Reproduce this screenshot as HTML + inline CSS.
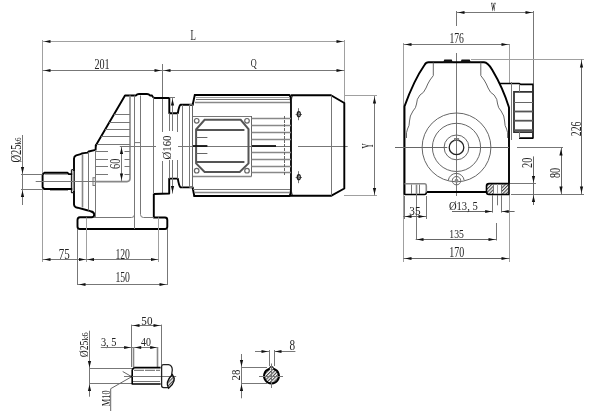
<!DOCTYPE html>
<html><head><meta charset="utf-8">
<style>
html,body{margin:0;padding:0;background:#fff;width:601px;height:411px;overflow:hidden}
svg{display:block;will-change:transform}
text{font-family:"Liberation Serif",serif;fill:#222;stroke:none}
.t{stroke:#777;stroke-width:1;fill:none}
.g{stroke:#a0a0a0;stroke-width:1;fill:none}
.d{stroke:#666;stroke-width:1;fill:none}
.h{stroke:#888;stroke-width:1.6;fill:none}
.k{stroke:#000;stroke-width:1.9;fill:none;stroke-linejoin:round;stroke-linecap:round}
.k2{stroke:#000;stroke-width:1.6;fill:none;stroke-linejoin:round}
.b{stroke:#222;stroke-width:0.4}
.m{stroke:#222;stroke-width:1.3;fill:none;stroke-linejoin:round}
.a{fill:#111;stroke:none}
</style></head><body>
<svg width="601" height="411" viewBox="0 0 601 411">
<line class="g" x1="42.5" y1="40" x2="42.5" y2="262"/>
<line class="g" x1="344.5" y1="40" x2="344.5" y2="103"/>
<line class="g" x1="42.5" y1="41.5" x2="344.5" y2="41.5"/>
<path class="a" d="M44.00,41.50 L50.50,39.90 L50.50,43.10Z"/>
<path class="a" d="M343.00,41.50 L336.50,43.10 L336.50,39.90Z"/>
<text font-size="14.53" transform="translate(190.53 40.30) scale(0.609 1)">L</text>
<line class="t" x1="42.5" y1="70.5" x2="344.5" y2="70.5"/>
<path class="a" d="M44.00,70.50 L50.50,68.90 L50.50,72.10Z"/>
<path class="a" d="M161.00,70.50 L154.50,72.10 L154.50,68.90Z"/>
<path class="a" d="M164.00,70.50 L170.50,68.90 L170.50,72.10Z"/>
<path class="a" d="M343.00,70.50 L336.50,72.10 L336.50,68.90Z"/>
<text font-size="14.24" transform="translate(94.39 69.10) scale(0.712 1)">201</text>
<text font-size="13.03" transform="translate(250.67 67.30) scale(0.630 1)">Q</text>
<line class="t" x1="162.5" y1="64" x2="162.5" y2="132"/>
<line class="t" x1="162.5" y1="161" x2="162.5" y2="194"/>
<path class="k" d="M95.8,145.5 L125,95.5 L136,95.5 Q137,94 139,94 L147,94 Q149,94 150,95.5 L152,95.5 Q153,98 155,98 L169.3,98 L169.3,113.3 L177.8,113.3 Q179,106 180.5,104.8 L192.6,104.8"/>
<path class="k" d="M95.8,145.5 L95.6,149.9 L88.7,151.5 L87.7,152.6 L81.8,153.4 L80.7,154.2 L76.2,155.3 Q74,156.2 74,158.5 L74,204.5 Q74.3,207.4 77.5,207.7 L86.2,210 L90.5,211.2 Q94.2,212 94.2,214.4 Q94.2,217.2 91.5,217.3 L80,217.3 Q77.5,217.5 77.5,220 L77.5,226.5 Q77.5,229 80,229 L165,229 Q167.3,229 167.3,226.5 L167.3,220 Q167.3,217.5 165,217.5 L153.8,217.5 L153.8,194 L169.2,193.5 L169.2,178.6 L177.8,178.6 Q179,186 180.5,187.4 L192.5,187.4"/>
<path class="k" d="M192.6,105 L194.8,95"/>
<path class="k" d="M192.6,187.5 L194.3,196"/>
<path class="m" d="M71.5,169.7 L74,169.7 M71.5,169.7 L71.5,192.6 L74,192.6"/>
<path class="k" d="M67.4,172.7 L44.5,172.7 L42.6,174.7 L42.6,187.2 L44.2,189 L71.5,189 M67.4,172.7 L68.8,174.1 L71.5,174.1"/>
<line class="h" x1="73.5" y1="171" x2="73.5" y2="191"/>
<line class="g" x1="44.5" y1="174.5" x2="68" y2="174.5"/>
<line class="g" x1="50" y1="190.5" x2="68" y2="190.5"/>
<line class="h" x1="82.5" y1="154" x2="82.5" y2="207.5"/>
<line class="t" x1="88.5" y1="152" x2="88.5" y2="210.5"/>
<line class="t" x1="95.5" y1="150" x2="95.5" y2="217.5"/>
<path class="h" d="M130,95.5 L130,178.6 Q130,181.6 127,181.6 L95.5,181.6"/>
<line class="t" x1="134.5" y1="95.5" x2="134.5" y2="229"/>
<path class="t" d="M134.5,214.5 Q134.5,217.5 131.5,217.5 L94,217.5"/>
<path class="t" d="M140.5,95.5 L140.5,214.5 Q140.5,217.5 143.5,217.5 L153.8,217.5"/>
<line class="t" x1="153.5" y1="97.5" x2="153.5" y2="194"/>
<line class="t" x1="113.9" y1="114.5" x2="130" y2="114.5"/>
<line class="t" x1="109.23" y1="122.5" x2="130" y2="122.5"/>
<line class="t" x1="105.14" y1="129.5" x2="130" y2="129.5"/>
<line class="t" x1="101.06" y1="136.5" x2="130" y2="136.5"/>
<line class="t" x1="96.5" y1="144.5" x2="130" y2="144.5"/>
<line class="t" x1="95.5" y1="151.5" x2="108" y2="151.5"/>
<line class="t" x1="124.5" y1="151.5" x2="130" y2="151.5"/>
<line class="t" x1="95.5" y1="159.5" x2="108" y2="159.5"/>
<line class="t" x1="124.5" y1="159.5" x2="130" y2="159.5"/>
<line class="t" x1="95.5" y1="166.5" x2="108" y2="166.5"/>
<line class="t" x1="124.5" y1="166.5" x2="130" y2="166.5"/>
<line class="t" x1="95.5" y1="174.5" x2="108" y2="174.5"/>
<line class="t" x1="124.5" y1="174.5" x2="130" y2="174.5"/>
<path class="t" d="M134.5,144 L134.5,142.6 L140.5,142.6 L140.5,144"/>
<rect class="t" x="93" y="177.7" width="2.3" height="7.8"/>
<line class="t" x1="35.7" y1="181.5" x2="95.5" y2="181.5"/>
<line class="t" x1="21" y1="174.5" x2="42.5" y2="174.5"/>
<line class="t" x1="21" y1="189.5" x2="42.5" y2="189.5"/>
<line class="t" x1="22.5" y1="135" x2="22.5" y2="205"/>
<path class="a" d="M22.50,173.50 L20.90,167.00 L24.10,167.00Z"/>
<path class="a" d="M22.50,190.50 L24.10,197.00 L20.90,197.00Z"/>
<text font-size="14.70" transform="translate(21.10 162.62) rotate(-90) scale(0.722 1)">Ø25</text>
<text font-size="8.12" transform="translate(20.70 144.54) rotate(-90) scale(0.856 1)">k6</text>
<line class="t" x1="121.5" y1="146.5" x2="121.5" y2="181.5"/>
<path class="a" d="M121.50,147.50 L123.10,154.00 L119.90,154.00Z"/>
<path class="a" d="M121.50,180.00 L119.90,173.50 L123.10,173.50Z"/>
<text font-size="15.45" transform="translate(120.10 169.01) rotate(-90) scale(0.668 1)">60</text>
<line class="t" x1="119.8" y1="146.5" x2="156" y2="146.5"/>
<line class="t" x1="178" y1="146.5" x2="290" y2="146.5"/>
<line class="t" x1="298" y1="146.5" x2="347.7" y2="146.5"/>
<line class="t" x1="169.5" y1="113.3" x2="169.5" y2="131"/>
<line class="t" x1="177.5" y1="113.3" x2="177.5" y2="132"/>
<line class="t" x1="169.5" y1="160" x2="169.5" y2="178.6"/>
<line class="t" x1="177.5" y1="160" x2="177.5" y2="178.6"/>
<line class="t" x1="182.5" y1="104.8" x2="182.5" y2="187.4"/>
<line class="t" x1="189.5" y1="104.8" x2="189.5" y2="187.4"/>
<line class="t" x1="172.5" y1="98" x2="172.5" y2="131"/>
<line class="t" x1="172.5" y1="160" x2="172.5" y2="193.5"/>
<line class="t" x1="169.3" y1="97.5" x2="175" y2="97.5"/>
<path class="a" d="M172.50,99.00 L174.10,105.50 L170.90,105.50Z"/>
<path class="a" d="M172.50,192.50 L170.90,186.00 L174.10,186.00Z"/>
<text font-size="11.97" transform="translate(170.90 159.43) rotate(-90) scale(0.898 1)">Ø160</text>
<line class="t" x1="77.5" y1="229" x2="77.5" y2="285"/>
<line class="g" x1="86.5" y1="217.5" x2="86.5" y2="262"/>
<line class="g" x1="158.5" y1="217.5" x2="158.5" y2="262"/>
<line class="t" x1="167.5" y1="229" x2="167.5" y2="285"/>
<line class="t" x1="42.5" y1="259.5" x2="158.5" y2="259.5"/>
<path class="a" d="M44.00,259.50 L50.50,257.90 L50.50,261.10Z"/>
<path class="a" d="M85.50,259.50 L79.00,261.10 L79.00,257.90Z"/>
<path class="a" d="M87.50,259.50 L94.00,257.90 L94.00,261.10Z"/>
<path class="a" d="M157.50,259.50 L151.00,261.10 L151.00,257.90Z"/>
<line class="t" x1="77.5" y1="284.5" x2="167.5" y2="284.5"/>
<path class="a" d="M79.00,284.50 L85.50,282.90 L85.50,286.10Z"/>
<path class="a" d="M166.00,284.50 L159.50,286.10 L159.50,282.90Z"/>
<text font-size="13.94" transform="translate(58.64 258.60) scale(0.789 1)">75</text>
<text font-size="13.94" transform="translate(115.43 258.60) scale(0.696 1)">120</text>
<text font-size="14.09" transform="translate(115.43 282.20) scale(0.689 1)">150</text>
<path class="k" d="M194.8,95 L289.5,95 Q291,97 291,104 L291,187 Q291,194 289.5,196 L194.3,196"/>
<path class="m" d="M292.5,95.4 Q291.2,97 291.2,104 L291.2,187 Q291.2,194 292.5,195.8"/>
<line class="d" x1="192.5" y1="105" x2="192.5" y2="187.5"/>
<line class="g" x1="196" y1="97.5" x2="290" y2="97.5"/>
<line class="t" x1="196" y1="99.5" x2="290" y2="99.5"/>
<line class="h" x1="195" y1="102.5" x2="290" y2="102.5"/>
<line class="t" x1="193" y1="189.5" x2="290" y2="189.5"/>
<line class="h" x1="195" y1="192.5" x2="290" y2="192.5"/>
<line class="t" x1="189.5" y1="104.5" x2="192.6" y2="104.5"/>
<line class="t" x1="189.5" y1="187.5" x2="192.6" y2="187.5"/>
<line class="t" x1="193" y1="116.5" x2="251.5" y2="116.5"/>
<line class="d" x1="251.5" y1="116" x2="251.5" y2="176.5"/>
<line class="h" x1="193" y1="176.5" x2="251.5" y2="176.5"/>
<path d="M204.6,119.8 L240.7,119.8 L248.5,129 L248.5,163.4 L239.7,171.9 L204.6,171.9 L196.1,163.4 L196.1,129.5 Z" stroke="#555" stroke-width="2" fill="none"/>
<circle cx="196.7" cy="120.8" r="2.3" stroke="#666" stroke-width="1.2" fill="none"/>
<circle cx="247" cy="120.8" r="2.3" stroke="#666" stroke-width="1.2" fill="none"/>
<circle cx="196.7" cy="170.7" r="2.3" stroke="#666" stroke-width="1.2" fill="none"/>
<circle cx="247" cy="170.7" r="2.3" stroke="#666" stroke-width="1.2" fill="none"/>
<line x1="196.1" y1="130" x2="244.4" y2="130" stroke="#555" stroke-width="2"/>
<line x1="196.1" y1="162" x2="244.4" y2="162" stroke="#555" stroke-width="2"/>
<line class="d" x1="196" y1="137.5" x2="207.4" y2="137.5"/>
<line x1="193" y1="146" x2="207.4" y2="146" stroke="#111" stroke-width="1.8"/>
<line class="d" x1="196" y1="153.5" x2="207.4" y2="153.5"/>
<line class="h" x1="251.5" y1="118.5" x2="291" y2="118.5"/>
<line class="h" x1="251.5" y1="125.5" x2="291" y2="125.5"/>
<line class="h" x1="251.5" y1="132.5" x2="291" y2="132.5"/>
<line class="h" x1="251.5" y1="139.5" x2="291" y2="139.5"/>
<line class="h" x1="251.5" y1="152.5" x2="291" y2="152.5"/>
<line class="h" x1="251.5" y1="159.5" x2="291" y2="159.5"/>
<line class="h" x1="251.5" y1="166.5" x2="291" y2="166.5"/>
<line class="h" x1="251.5" y1="172.5" x2="291" y2="172.5"/>
<line x1="252" y1="146" x2="276" y2="146" stroke="#111" stroke-width="1.8"/>
<line class="d" x1="284.5" y1="116" x2="284.5" y2="176" stroke-dasharray="3 1"/>
<path class="k" d="M291.5,95.3 L331,95.3 L344.3,103 L344.3,188.5 L331,195.8 L290,195.8"/>
<line class="t" x1="331.5" y1="95.5" x2="331.5" y2="195.5"/>
<line class="t" x1="298.5" y1="108.2" x2="298.5" y2="120.2"/>
<line class="t" x1="295.6" y1="114.5" x2="302" y2="114.5"/>
<ellipse class="m" cx="298.8" cy="114.2" rx="1.5" ry="2.5"/>
<line class="t" x1="298.5" y1="171.2" x2="298.5" y2="183.2"/>
<line class="t" x1="295.6" y1="177.5" x2="302" y2="177.5"/>
<ellipse class="m" cx="298.8" cy="177.2" rx="1.5" ry="2.5"/>
<line class="g" x1="344" y1="95.5" x2="377" y2="95.5"/>
<line class="g" x1="344" y1="195.5" x2="377" y2="195.5"/>
<line class="t" x1="374.5" y1="96" x2="374.5" y2="195.5"/>
<path class="a" d="M374.50,97.00 L376.10,103.50 L372.90,103.50Z"/>
<path class="a" d="M374.50,194.50 L372.90,188.00 L376.10,188.00Z"/>
<text font-size="15.78" transform="translate(373.30 148.57) rotate(-90) scale(0.459 1)">Y</text>
<line class="g" x1="403.5" y1="43" x2="403.5" y2="262"/>
<line class="g" x1="509.5" y1="44" x2="509.5" y2="83"/>
<line class="g" x1="509.5" y1="195" x2="509.5" y2="262"/>
<line class="t" x1="456.5" y1="11" x2="456.5" y2="26"/>
<line class="t" x1="456.5" y1="53" x2="456.5" y2="196"/>
<line class="t" x1="533.5" y1="11" x2="533.5" y2="84"/>
<line class="t" x1="456.5" y1="12.5" x2="533.5" y2="12.5"/>
<path class="a" d="M458.00,12.50 L464.50,10.90 L464.50,14.10Z"/>
<path class="a" d="M532.00,12.50 L525.50,14.10 L525.50,10.90Z"/>
<text class="b" font-size="12.92" transform="translate(491.20 10.70) scale(0.346 1)">W</text>
<line class="t" x1="403.5" y1="44.5" x2="509.5" y2="44.5"/>
<path class="a" d="M405.00,44.50 L411.50,42.90 L411.50,46.10Z"/>
<path class="a" d="M508.00,44.50 L501.50,46.10 L501.50,42.90Z"/>
<text font-size="14.09" transform="translate(449.43 43.30) scale(0.684 1)">176</text>
<path class="k" d="M404.5,194 L404.5,106.4 Q414,80 424.5,65 Q426,62.3 428.5,62.3 L484,62.3 Q488,62.5 492.3,70 Q503,88 509,107.5 L509,183.5"/>
<path class="a" d="M443,62.8 L444.3,59.6 L451.7,59.6 L453,62.8 Z M460.3,62.8 L461.6,59.6 L469.7,59.6 L471,62.8 Z"/>
<line class="g" x1="471" y1="59.5" x2="584" y2="59.5"/>
<path class="d" d="M433.3,62.5 L433.3,75.6 L430,80 Q427.5,84 426,88 Q424,93 420,95 Q416.5,99 416.5,104 Q416,108 413,111 Q409.5,116 409.5,121 Q409.5,126 407.5,129 Q406,132 406.5,138"/>
<path class="d" d="M 480.8,62.5 L 480.8,75.6 L 484.1,80.0 Q 486.6,84.0 488.1,88.0 Q 490.1,93.0 494.1,95.0 Q 497.6,99.0 497.6,104.0 Q 498.1,108.0 501.1,111.0 Q 504.6,116.0 504.6,121.0 Q 504.6,126.0 506.6,129.0 Q 508.1,132.0 507.6,138.0"/>
<circle class="d" cx="456.5" cy="147.4" r="34.4"/>
<circle class="d" cx="456.5" cy="147.4" r="24.1"/>
<circle class="d" cx="456.5" cy="147.4" r="12.4"/>
<circle class="m" cx="456.5" cy="147.4" r="7.3"/>
<rect class="t" x="454.5" y="138.6" width="4.1" height="1.6"/>
<line class="d" x1="395" y1="147.5" x2="447.3" y2="147.5"/>
<line class="d" x1="468" y1="147.5" x2="509" y2="147.5"/>
<line class="t" x1="517" y1="147.5" x2="563" y2="147.5"/>
<circle class="d" cx="456.5" cy="180.7" r="4.2"/>
<circle cx="456.5" cy="180.7" r="1.9" fill="#888"/>
<path class="d" d="M448.3,180.5 A8,8 0 0 1 464.2,180.5"/>
<path class="k" d="M426.7,192 L486.5,192"/>
<path class="h" d="M404.5,183.8 L424.5,183.8 Q426.3,183.8 426.3,186 L426.3,192.5"/>
<path class="k2" d="M404.5,194.5 L424.5,194.5 Q426.3,194.5 426.3,192.5"/>
<line class="t" x1="411.5" y1="184.5" x2="411.5" y2="194"/>
<line class="h" x1="416.5" y1="184.5" x2="416.5" y2="194"/>
<line class="t" x1="419.5" y1="184.5" x2="419.5" y2="194"/>
<line class="t" x1="416.5" y1="194" x2="416.5" y2="240"/>
<defs><pattern id="hp" width="2.4" height="2.4" patternUnits="userSpaceOnUse" patternTransform="rotate(-45)"><rect width="2.4" height="1.1" fill="#444"/></pattern></defs>
<rect x="487" y="184.3" width="6" height="9.7" fill="url(#hp)"/>
<rect x="501.5" y="184.3" width="7" height="9.7" fill="url(#hp)"/>
<path class="k2" d="M509,183.6 L489,183.6 Q486.5,183.6 486.5,186 L486.5,192 Q486.5,194.5 489,194.5 L509,194.5 L509,183.6"/>
<line class="t" x1="493.5" y1="184" x2="493.5" y2="194"/>
<line class="g" x1="497.5" y1="184" x2="497.5" y2="194"/>
<line class="t" x1="501.5" y1="184" x2="501.5" y2="194"/>
<line class="t" x1="497.5" y1="195" x2="497.5" y2="205.3"/>
<line class="t" x1="492.5" y1="195" x2="492.5" y2="212.6"/>
<line class="t" x1="501.5" y1="195" x2="501.5" y2="212.6"/>
<line class="d" x1="452" y1="211.5" x2="492.7" y2="211.5"/>
<path class="a" d="M491.70,211.50 L485.20,213.10 L485.20,209.90Z"/>
<line class="d" x1="501.2" y1="211.5" x2="514.6" y2="211.5"/>
<path class="a" d="M502.20,211.50 L508.70,209.90 L508.70,213.10Z"/>
<text font-size="13.03" transform="translate(448.88 209.60) scale(0.814 1)">Ø13, 5</text>
<line class="t" x1="426.5" y1="196" x2="426.5" y2="219"/>
<line class="t" x1="404.5" y1="196" x2="404.5" y2="219"/>
<line class="d" x1="403.5" y1="216.5" x2="426.5" y2="216.5"/>
<path class="a" d="M405.00,216.50 L411.50,214.90 L411.50,218.10Z"/>
<path class="a" d="M425.00,216.50 L418.50,218.10 L418.50,214.90Z"/>
<text font-size="13.33" transform="translate(409.34 215.10) scale(0.841 1)">35</text>
<line class="t" x1="496.5" y1="223" x2="496.5" y2="240.5"/>
<line class="d" x1="415.7" y1="239.5" x2="496.5" y2="239.5"/>
<path class="a" d="M417.00,239.50 L423.50,237.90 L423.50,241.10Z"/>
<path class="a" d="M495.00,239.50 L488.50,241.10 L488.50,237.90Z"/>
<text font-size="13.03" transform="translate(449.33 237.70) scale(0.745 1)">135</text>
<line class="d" x1="403.5" y1="258.5" x2="509.5" y2="258.5"/>
<path class="a" d="M405.00,258.50 L411.50,256.90 L411.50,260.10Z"/>
<path class="a" d="M508.00,258.50 L501.50,260.10 L501.50,256.90Z"/>
<text font-size="13.64" transform="translate(449.30 257.20) scale(0.733 1)">170</text>
<line class="t" x1="510" y1="183.5" x2="536" y2="183.5"/>
<line class="t" x1="511" y1="194.5" x2="584" y2="194.5"/>
<line class="d" x1="533.5" y1="156.4" x2="533.5" y2="205"/>
<path class="a" d="M533.50,182.50 L531.90,176.00 L535.10,176.00Z"/>
<path class="a" d="M533.50,195.50 L535.10,202.00 L531.90,202.00Z"/>
<text font-size="13.79" transform="translate(532.20 167.91) rotate(-90) scale(0.741 1)">20</text>
<line class="d" x1="561.5" y1="147.5" x2="561.5" y2="194.5"/>
<path class="a" d="M561.00,149.00 L562.60,155.50 L559.40,155.50Z"/>
<path class="a" d="M561.00,193.00 L559.40,186.50 L562.60,186.50Z"/>
<text font-size="13.79" transform="translate(559.50 178.11) rotate(-90) scale(0.741 1)">80</text>
<line class="d" x1="581.5" y1="59.5" x2="581.5" y2="194.5"/>
<path class="a" d="M581.50,61.00 L583.10,67.50 L579.90,67.50Z"/>
<path class="a" d="M581.50,193.00 L579.90,186.50 L583.10,186.50Z"/>
<text font-size="14.09" transform="translate(580.70 136.19) rotate(-90) scale(0.690 1)">226</text>
<path class="k2" d="M499.4,83.5 L519,83.5 L520.6,84.4 L533,84.4 L533,138.1 L519,138.1"/>
<path d="M533,91.9 L514,91.9 L514,132.1 L533,132.1" stroke="#333" stroke-width="1.8" fill="none"/>
<line class="d" x1="514" y1="102.5" x2="533" y2="102.5"/>
<line x1="514" y1="111.5" x2="533" y2="111.5" stroke="#555" stroke-width="1.8"/>
<line x1="514" y1="120.7" x2="533" y2="120.7" stroke="#555" stroke-width="1.8"/>
<line x1="514" y1="130.2" x2="533" y2="130.2" stroke="#555" stroke-width="1.8"/>
<line class="t" x1="519.5" y1="84.4" x2="519.5" y2="91.9"/>
<line class="t" x1="519.5" y1="132.1" x2="519.5" y2="138.1"/>
<line class="t" x1="511.5" y1="82" x2="511.5" y2="140"/>
<line class="t" x1="89.5" y1="330.7" x2="89.5" y2="396.7"/>
<path class="a" d="M89.50,367.50 L87.90,361.00 L91.10,361.00Z"/>
<path class="a" d="M89.50,384.50 L91.10,391.00 L87.90,391.00Z"/>
<text font-size="12.58" transform="translate(88.00 357.19) rotate(-90) scale(0.766 1)">Ø25</text>
<text font-size="7.39" transform="translate(88.00 340.67) rotate(-90) scale(1.139 1)">k6</text>
<line class="t" x1="89.5" y1="368.5" x2="133" y2="368.5"/>
<line class="t" x1="89.5" y1="383.5" x2="133" y2="383.5"/>
<text font-size="12.88" transform="translate(100.88 346.20) scale(0.804 1)">3, 5</text>
<line class="t" x1="100.8" y1="347.5" x2="157.7" y2="347.5"/>
<path class="a" d="M130.60,347.50 L124.10,349.10 L124.10,345.90Z"/>
<path class="a" d="M134.70,347.50 L141.20,345.90 L141.20,349.10Z"/>
<path class="a" d="M156.70,347.50 L150.20,349.10 L150.20,345.90Z"/>
<text font-size="12.42" transform="translate(141.10 346.30) scale(0.796 1)">40</text>
<line class="t" x1="131.5" y1="324.6" x2="131.5" y2="367"/>
<line class="h" x1="133.5" y1="347" x2="133.5" y2="367"/>
<line class="h" x1="157.5" y1="347" x2="157.5" y2="367"/>
<line class="t" x1="161.5" y1="324.6" x2="161.5" y2="365"/>
<line class="t" x1="131.5" y1="325.5" x2="161.5" y2="325.5"/>
<path class="a" d="M133.00,325.50 L139.50,323.90 L139.50,327.10Z"/>
<path class="a" d="M160.00,325.50 L153.50,327.10 L153.50,323.90Z"/>
<text font-size="13.48" transform="translate(141.33 324.90) scale(0.824 1)">50</text>
<path class="k2" d="M134.2,367.6 L160.6,367.6 M132.2,369.6 L134.2,367.6 M132.2,369.6 L132.2,384 L160.6,384"/>
<line class="d" x1="134" y1="370.3" x2="160" y2="370.3" stroke-dasharray="10 1"/>
<line class="t" x1="133" y1="381.5" x2="160" y2="381.5"/>
<line class="t" x1="124" y1="376.5" x2="176.2" y2="376.5"/>
<path class="m" d="M168.6,387.6 L163.6,387.6 Q161.6,387.6 161.6,385.6 L161.6,366.7 Q161.6,364.7 163.6,364.7 L168.6,364.7 Q172.3,365.5 172.3,370 L171.6,375"/>
<path d="M172.3,374.5 Q177.5,381 168.6,388.2 Q164.8,382 172.3,374.5 Z" fill="url(#hp)" stroke="#111" stroke-width="1.3"/>
<path class="d" d="M131.7,376.7 L110.7,388.7 L110.7,411"/>
<line class="d" x1="122.7" y1="371.5" x2="131.7" y2="376.7"/>
<circle cx="131.5" cy="376.5" r="0.9" fill="#111"/>
<text font-size="12.58" transform="translate(109.60 406.15) rotate(-90) scale(0.664 1)">M10</text>
<circle cx="271.4" cy="376.5" r="7.5" fill="url(#hp)"/>
<path class="k" d="M269,369 A7.5,7.5 0 1 0 274,369"/>
<path class="m" d="M269,369 Q271.4,364 274,369"/>
<line class="t" x1="269.5" y1="350" x2="269.5" y2="366"/>
<line class="t" x1="274.5" y1="350" x2="274.5" y2="366"/>
<line class="t" x1="255" y1="351.5" x2="269" y2="351.5"/>
<line class="t" x1="274" y1="351.5" x2="295.4" y2="351.5"/>
<path class="a" d="M268.00,351.50 L261.50,353.10 L261.50,349.90Z"/>
<path class="a" d="M275.00,351.50 L281.50,349.90 L281.50,353.10Z"/>
<text font-size="13.64" transform="translate(289.45 350.30) scale(0.821 1)">8</text>
<line class="t" x1="259" y1="376.5" x2="283" y2="376.5"/>
<line class="t" x1="271.5" y1="363.5" x2="271.5" y2="388"/>
<line class="t" x1="241.5" y1="354" x2="241.5" y2="398.3"/>
<path class="a" d="M241.50,366.50 L239.90,360.00 L243.10,360.00Z"/>
<path class="a" d="M241.50,384.50 L243.10,391.00 L239.90,391.00Z"/>
<line class="t" x1="241.5" y1="367.5" x2="267" y2="367.5"/>
<line class="t" x1="241.5" y1="383.5" x2="267" y2="383.5"/>
<text font-size="11.67" transform="translate(239.50 380.53) rotate(-90) scale(0.932 1)">28</text>
</svg>
</body></html>
